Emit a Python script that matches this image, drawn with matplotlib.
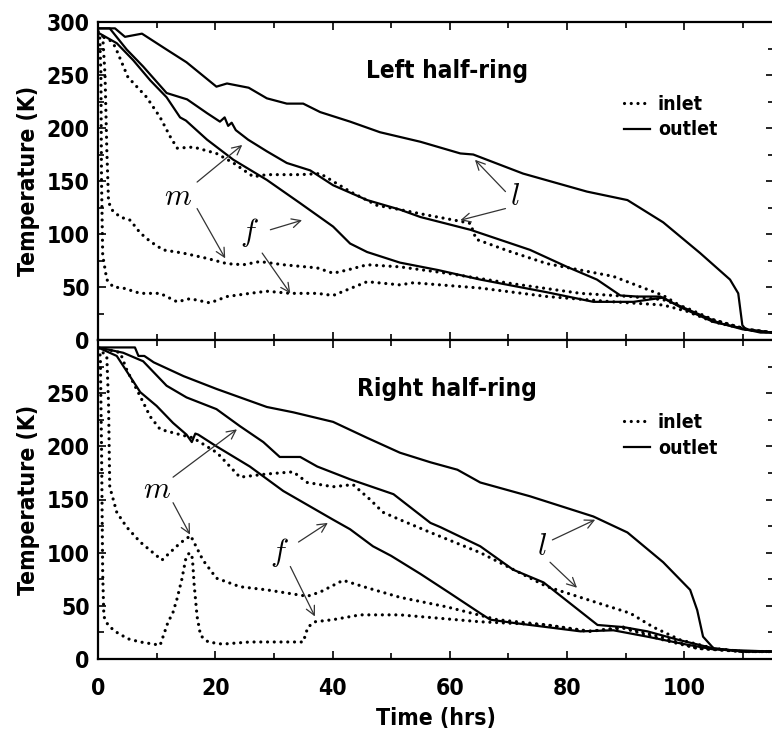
import numpy as np
import matplotlib
matplotlib.use('Agg')
import matplotlib.pyplot as plt
from matplotlib.lines import Line2D
from matplotlib.ticker import MultipleLocator

# ---- Left half-ring (top panel) ----
left_l_out_t = [0, 2.9, 4.6, 7.5, 11.7, 15.1, 20.2, 22, 25.7, 28.8, 32.2, 35, 37.9, 43, 48.1, 55, 61.8, 64,
                72.5, 83.4, 90.3, 96.4, 102.7, 107.8, 109.2, 109.9, 110.5, 113, 115]
left_l_out_T = [294, 294, 286, 289, 274, 262, 239, 242, 238, 228, 223, 223, 215, 206, 196, 187, 176, 175,
                157, 140, 132, 111, 82, 57, 44, 14, 10, 7, 7]
left_m_out_t = [0, 2, 4.9, 7.7, 11.7, 15.2, 18.6, 20.8, 21.6, 22.2, 22.8, 23.5, 25.6, 28.8, 32.2, 36.2, 40.1,
                45.9, 51.5, 55, 63.5, 73.7, 80, 85.1, 89.1, 92, 95.9, 97.6, 102.2, 106, 110, 115]
left_m_out_T = [294, 294, 274, 258, 233, 227, 214, 206, 210, 202, 205, 198, 189, 178, 167, 160, 146,
                132, 123, 116, 104, 85, 69, 57, 42, 41, 41, 36, 25, 16, 10, 7]
left_f_out_t = [0, 3.2, 6, 8.9, 11.7, 14, 15, 18.6, 23.1, 28.8, 34.5, 40.1, 43, 45.9, 51.5, 58, 65.2, 76.6,
                84.5, 91.3, 96.4, 99.3, 105, 110.7, 115]
left_f_out_T = [290, 280, 264, 245, 229, 210, 207, 189, 170, 151, 129, 107, 91, 83, 73, 66, 57, 45,
                36, 36, 40, 31, 17, 10, 7]
left_l_in_t = [0, 2, 2.9, 5.1, 8.3, 10.6, 12.3, 13.5, 16.3, 20.2, 23.1, 26.5, 28.8, 34.5, 37.9, 43, 47.6,
               51.5, 56, 61.8, 63.5, 64.5, 70, 76.6, 87.9, 96.4, 101.5, 105, 110.7, 115]
left_l_in_T = [288, 283, 277, 248, 229, 210, 192, 181, 182, 176, 167, 154, 156, 156, 157, 140, 127,
               123, 118, 112, 110, 95, 84, 72, 60, 42, 25, 19, 10, 7]
left_m_in_t = [0, 0.8, 1.2, 1.5, 1.8, 2.5, 3.8, 5.5, 7.2, 8.9, 11.1, 14.5, 18.6, 22, 24.8, 27.6, 31.6, 37.4,
               40.1, 42.5, 45.9, 51.5, 59.5, 70.8, 82.3, 90.8, 96.4, 100.5, 105, 110.7, 115]
left_m_in_T = [291, 287, 250, 180, 130, 122, 116, 113, 101, 93, 85, 82, 77, 72, 71, 74, 71, 68,
               63, 66, 71, 69, 63, 53, 44, 41, 38, 30, 19, 10, 7]
left_f_in_t = [0, 0.3, 0.5, 0.6, 0.8, 1.5, 2.6, 4.3, 7.2, 10.6, 13.5, 15.7, 19.1, 22, 25.9, 28.8, 32.8,
               37.4, 40.1, 45.9, 51.5, 53.8, 65.2, 76.6, 87.9, 96.4, 100.5, 105, 110.7, 115]
left_f_in_T = [291, 285, 250, 150, 80, 57, 50, 49, 44, 44, 36, 39, 35, 41, 44, 46, 44,
               44, 42, 55, 52, 54, 49, 41, 36, 33, 27, 17, 10, 7]

# ---- Right half-ring (bottom panel) ----
right_l_out_t = [0, 6.3, 6.9, 7.9, 9.5, 14.6, 20.2, 28.8, 33.3, 40.1, 45.9, 51.5, 56.7, 61.3, 65.2, 73.7,
                 84.5, 90.3, 96.4, 101, 102.2, 103.2, 105, 110, 115]
right_l_out_T = [293, 293, 285, 285, 279, 266, 254, 237, 232, 223, 208, 194, 185, 178, 166, 153,
                 134, 119, 91, 65, 46, 21, 10, 7, 7]
right_m_out_t = [0, 4.3, 7.7, 11.7, 15.1, 20.2, 24.2, 28.2, 31, 34.5, 37.4, 43, 50.4, 56.7, 58.4, 65.2,
                 70.8, 76, 85.2, 89.6, 93.7, 99, 105, 110, 115]
right_m_out_T = [293, 288, 280, 257, 246, 235, 219, 204, 190, 190, 181, 169, 155, 128, 124, 106,
                 84, 72, 32, 30, 26, 18, 10, 7, 7]
right_f_out_t = [0, 3.2, 7.2, 10, 12.8, 15.1, 16, 16.6, 17.1, 20.2, 25.9, 31.6, 40.1, 43, 46.9, 50, 55, 60,
                 65.2, 66.9, 70.8, 82.3, 87.9, 93.7, 100, 105, 115]
right_f_out_T = [293, 285, 251, 238, 222, 211, 204, 212, 211, 200, 181, 158, 131, 122, 106, 97, 80, 62,
                 43, 37, 34, 26, 27, 21, 14, 9, 7]
right_l_in_t = [0, 2.5, 3.8, 4.9, 7.2, 8.9, 10.6, 14, 16.2, 20.3, 24.2, 28.8, 33.3, 35.7, 40.1, 43.5, 46.4,
                48.6, 51.5, 56.7, 65.2, 76.6, 85.1, 90.8, 94.7, 99.3, 105, 110, 115]
right_l_in_T = [292, 290, 288, 272, 247, 228, 216, 211, 208, 194, 171, 174, 176, 166, 162, 164, 150,
                138, 131, 119, 100, 68, 53, 43, 30, 18, 10, 7, 7]
right_m_in_t = [0, 1.5, 1.8, 2.0, 3.2, 4.9, 7.2, 10.9, 14, 15.8, 17.9, 20.2, 24.2, 28.8, 35.7, 37.9, 41.8,
                45.9, 51.5, 59.5, 68.1, 76.6, 84, 89.6, 96.4, 102.2, 110, 115]
right_m_in_T = [292, 285, 240, 162, 138, 124, 110, 93, 109, 116, 93, 76, 68, 65, 59, 63, 74,
                67, 58, 49, 37, 32, 26, 30, 20, 10, 7, 7]
right_f_in_t = [0, 0.4, 0.6, 0.8, 1.0, 1.7, 2.9, 5.1, 7.2, 10.6, 11.9, 12.8, 13.5, 14.3, 15.0, 15.6, 16.1,
                16.4, 16.9, 17.5, 18.8, 21.2, 25.9, 31.6, 35, 35.8, 37, 40.1, 44.7, 51.5, 65.2, 76.6,
                83.4, 89.6, 96.4, 102.2, 110, 115]
right_f_in_T = [292, 285, 200, 80, 40, 32, 26, 19, 16, 13, 34, 44, 57, 75, 95, 100, 95,
                70, 40, 22, 16, 14, 16, 16, 16, 30, 35, 37, 41.5, 41.5, 35, 32,
                26, 29, 18, 10, 7, 7]

panels = [
    ('Left half-ring',
     [(left_l_out_t, left_l_out_T), (left_m_out_t, left_m_out_T), (left_f_out_t, left_f_out_T)],
     [(left_l_in_t, left_l_in_T), (left_m_in_t, left_m_in_T), (left_f_in_t, left_f_in_T)]),
    ('Right half-ring',
     [(right_l_out_t, right_l_out_T), (right_m_out_t, right_m_out_T), (right_f_out_t, right_f_out_T)],
     [(right_l_in_t, right_l_in_T), (right_m_in_t, right_m_in_T), (right_f_in_t, right_f_in_T)]),
]

# letter labels: (letter, text position, [(tail, tip), ...])
labels_top = [
    ('m', (13.7, 135), [((16.9, 149), (24.6, 184)), ((16.9, 124), (21.7, 77))]),
    ('f', (25.9, 101), [((29.4, 104), (34.8, 113)), ((28.0, 82), (32.8, 44))]),
    ('l', (71.2, 135), [((69.5, 140), (64.3, 170)), ((69.5, 124), (61.8, 113))]),
]
labels_bot = [
    ('m', (10.0, 159), [((12.8, 171), (23.7, 216)), ((12.8, 147), (15.7, 117))]),
    ('f', (31.0, 100), [((34.2, 110), (39.2, 128)), ((32.8, 87), (37.0, 40))]),
    ('l', (75.8, 106), [((77.5, 112), (84.8, 131)), ((77.1, 91), (81.7, 67))]),
]

plt.rcParams['font.family'] = ['DejaVu Sans']
plt.rcParams['font.stretch'] = 'condensed'
plt.rcParams['font.weight'] = 'bold'
plt.rcParams['axes.labelweight'] = 'bold'
plt.rcParams['mathtext.fontset'] = 'cm'

fig = plt.figure(figsize=(7.72, 7.45), dpi=100)
W, H = 772, 745
left_px, right_px = 98, 774
ax_top = fig.add_axes([left_px / W, 1 - 340 / H, (right_px - left_px) / W, 318 / H])
ax_bot = fig.add_axes([left_px / W, 1 - 659 / H, (right_px - left_px) / W, 319 / H])

dotted = dict(color='black', lw=2.3, linestyle=(0, (0.01, 2.1)), dash_capstyle='round')
solid = dict(color='black', lw=1.6)
arrow = dict(arrowstyle='->', color='#333333', lw=0.9, mutation_scale=16, shrinkA=0, shrinkB=0)

for ax, (title, outs, ins), labels in zip([ax_top, ax_bot], panels, [labels_top, labels_bot]):
    for t, T in outs:
        ax.plot(t, T, **solid)
    for t, T in ins:
        ax.plot(t, T, **dotted)
    ax.set_xlim(0, 115.3)
    ax.set_ylim(0, 300)
    ax.xaxis.set_major_locator(MultipleLocator(20))
    ax.xaxis.set_minor_locator(MultipleLocator(10))
    ax.yaxis.set_major_locator(MultipleLocator(50))
    ax.yaxis.set_minor_locator(MultipleLocator(25))
    ax.tick_params(which='major', direction='in', top=True, right=True, length=6, width=1.2)
    ax.tick_params(which='minor', direction='in', top=True, right=True, length=4.5, width=1.2)
    ax.tick_params(axis='y', labelsize=16.5, pad=6)
    ax.tick_params(axis='x', labelsize=16.5, pad=13)
    for s in ax.spines.values():
        s.set_linewidth(1.6)
    ax.set_ylabel('Temperature (K)', fontsize=16.5, labelpad=5)
    ax.text(59.5, 254, title, fontsize=17.5, ha='center', va='center')
    for letter, pos, arrs in labels:
        ax.text(pos[0], pos[1], '$%s$' % letter, fontsize=22, ha='center', va='center')
        for tail, tip in arrs:
            ax.annotate('', xy=tip, xytext=tail, arrowprops=arrow)
    handles = [Line2D([], [], **dotted), Line2D([], [], **solid)]
    ax.legend(handles, ['inlet', 'outlet'], loc='upper left', bbox_to_anchor=(0.778, 0.772),
              frameon=False, fontsize=14, handlelength=1.35, handletextpad=0.4,
              labelspacing=0.35, borderpad=0, borderaxespad=0)

ax_top.tick_params(axis='x', labelbottom=False)
ax_bot.set_yticks([0, 50, 100, 150, 200, 250])
ax_bot.set_xticks([0, 20, 40, 60, 80, 100])
ax_bot.set_xlabel('Time (hrs)', fontsize=16.5, labelpad=5)

fig.savefig('out.png', dpi=100, facecolor='white')
